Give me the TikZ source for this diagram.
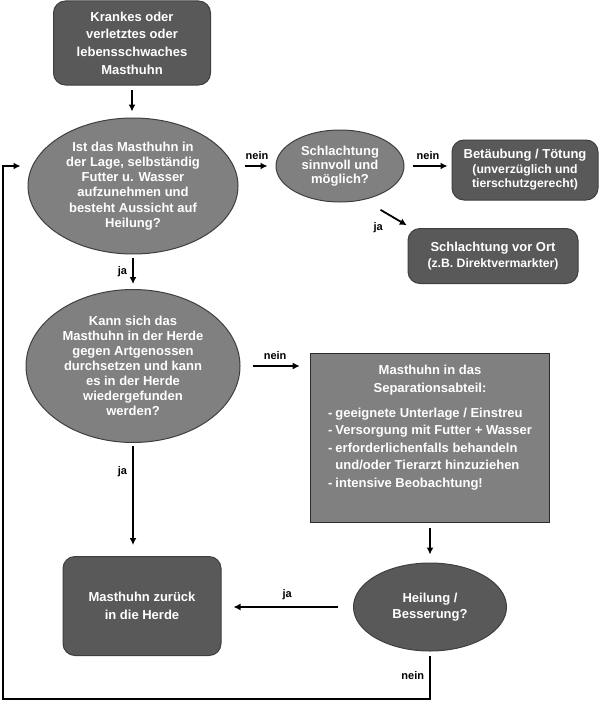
\documentclass[tikz,border=0pt]{standalone}
\usepackage{fontspec}
\setmainfont{Liberation Sans}
\usepackage{xcolor}
\definecolor{boxdark}{HTML}{595959}
\definecolor{boxmid}{HTML}{808080}
\definecolor{boxrim}{HTML}{3F3F3F}
\usetikzlibrary{shapes.geometric, arrows.meta}
\newcommand{\subsz}{\fontsize{12.2}{14.5}\selectfont}
\tikzset{
  hbox/.style ={rectangle, rounded corners=12pt, draw=boxrim, line width=1pt, fill=boxdark,
                text=white, align=center, inner sep=2pt, font=\bfseries\fontsize{13}{17.6}\selectfont},
  hoval/.style={ellipse, draw=boxrim, line width=1pt, fill=boxmid,
                text=white, align=center, inner sep=0pt, font=\bfseries\fontsize{13}{15.3}\selectfont},
  hsep/.style ={rectangle, draw=boxrim!70!black, line width=1.6pt, fill=boxmid,
                text=white, align=center, inner sep=0pt, font=\bfseries\fontsize{13}{17.5}\selectfont},
  harr/.style ={-{Latex[length=7pt,width=7pt]}, line width=1.8pt, color=black},
  hlbl/.style ={font=\bfseries\fontsize{11}{13}\selectfont, text=black, inner sep=2pt},
}
\begin{document}
\begin{tikzpicture}[x=1pt, y=-1pt]
  \useasboundingbox (0,0) rectangle (600,701);
  \node[hbox, minimum width=157pt, minimum height=84pt] (sick) at (132,43) {Krankes oder\\verletztes oder\\lebensschwaches\\Masthuhn};
  \node[hoval, minimum width=210pt, minimum height=136pt] (q1) at (133,186) {Ist das Masthuhn in\\der Lage, selbständig\\Futter u. Wasser\\aufzunehmen und\\besteht Aussicht auf\\Heilung?};
  \node[hoval, minimum width=128pt, minimum height=72pt, font=\bfseries\fontsize{13}{14.2}\selectfont] (q2) at (340,166) {Schlachtung\\sinnvoll und\\möglich?};
  \node[hbox, minimum width=146pt, minimum height=60pt, font=\bfseries\fontsize{13}{14.5}\selectfont] (kill) at (525,170) {Betäubung / Tötung\\\subsz(unverzüglich und\\\subsz tierschutzgerecht)};
  \node[hbox, minimum width=170pt, minimum height=55pt, font=\bfseries\fontsize{13}{15.5}\selectfont] (onsite) at (493,256) {Schlachtung vor Ort\\\subsz(z.B. Direktvermarkter)};
  \node[hoval, minimum width=214pt, minimum height=153pt, font=\bfseries\fontsize{13}{15}\selectfont] (q3) at (133,366) {Kann sich das\\Masthuhn in der Herde\\gegen Artgenossen\\durchsetzen und kann\\es in der Herde\\wiedergefunden\\werden?};
  \node[hsep, minimum width=239pt, minimum height=169pt] (sep) at (430,438) {Masthuhn in das\\Separationsabteil:\\[9pt]
    \begin{tabular}{@{}l@{\hspace{3pt}}l@{}}
      - & geeignete Unterlage / Einstreu\\
      - & Versorgung mit Futter + Wasser\\
      - & erforderlichenfalls behandeln\\
        & und/oder Tierarzt hinzuziehen\\
      - & intensive Beobachtung!\\[18pt]
    \end{tabular}};
  \node[hoval, fill=boxdark, minimum width=153pt, minimum height=88pt, font=\bfseries\fontsize{13}{16}\selectfont] (heal) at (430,607) {Heilung /\\Besserung?};
  \node[hbox, minimum width=158pt, minimum height=99pt, font=\bfseries\fontsize{13}{18}\selectfont] (back) at (142,606) {Masthuhn zurück\\in die Herde};
  \coordinate (loopcorner) at (3,699);
  % connectors
  \draw[harr, shorten <=4pt, shorten >=6pt] (sick.south) -- (sick.south |- q1.north);
  \draw[harr, shorten <=6pt, shorten >=8pt] (q1.east |- q2.west) -- (q2.west) node[hlbl, midway, above=3pt] {nein};
  \draw[harr, shorten <=8pt, shorten >=4pt] (q2.east) -- (q2.east -| kill.west) node[hlbl, midway, above=3pt] {nein};
  \draw[harr, shorten <=47pt, shorten >=100pt] ([yshift=-20pt]q2.center) -- ([yshift=-20pt]onsite.center) node[hlbl, pos=0.25, below=11pt] {ja};
  \draw[harr, shorten <=3pt, shorten >=5pt] (q1.south) -- (q1.south |- q3.north) node[hlbl, midway, left=3pt] {ja};
  \draw[harr, shorten <=12pt, shorten >=10pt] (q3.east) -- (q3.east -| sep.west) node[hlbl, midway, above=3pt] {nein};
  \draw[harr, shorten <=3pt, shorten >=11pt] (q3.south) -- (q3.south |- back.north) node[hlbl, pos=0.25, left=3pt] {ja};
  \draw[harr, shorten <=5pt, shorten >=8pt] (sep.south) -- (heal.north);
  \draw[harr, shorten <=15pt, shorten >=12pt] (heal.west) -- (heal.west -| back.east) node[hlbl, midway, above=4pt] {ja};
  \draw[harr, shorten <=4pt, shorten >=7pt] (heal.south) |- node[hlbl, pos=0.25, left=3pt] {nein} (loopcorner) |- (q1.west |- q2.west);
\end{tikzpicture}
\end{document}
